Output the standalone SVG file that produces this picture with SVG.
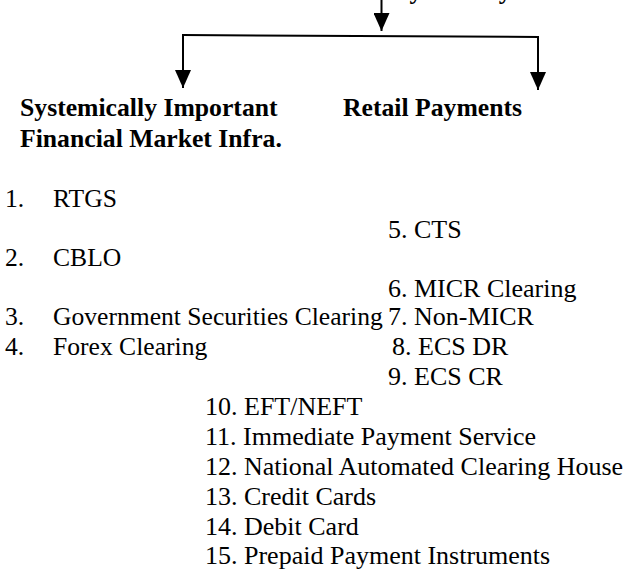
<svg xmlns="http://www.w3.org/2000/svg" width="626" height="570" viewBox="0 0 626 570">
<style>
text { font-family: "Liberation Serif", "Times New Roman", serif; font-size: 26px; fill: #000; }
.b { font-weight: bold; font-size: 25.7px; }
.l { font-size: 25.6px; }
.ln { stroke: #000; stroke-width: 2; fill: none; }
</style>
<defs>
<marker id="ah" markerUnits="userSpaceOnUse" markerWidth="18" markerHeight="16" viewBox="0 0 18 16" refX="18" refY="8" orient="auto">
<path d="M0,0 L18,8 L0,16 z" fill="#000"/>
</marker>
</defs>
<rect width="626" height="570" fill="#fff"/>
<g id="title"><text class="b" x="381" y="-1.5">Payment Systems</text></g>
<g id="connectors">
<path class="ln" d="M381.5,0 L381.5,31" marker-end="url(#ah)"/>
<path class="ln" d="M182,35 L539,37"/>
<path class="ln" d="M183,35 L183,88" marker-end="url(#ah)"/>
<path class="ln" d="M538,37 L538,90" marker-end="url(#ah)"/>
</g>
<g id="sifmi">
<text class="b" x="20" y="116">Systemically Important</text>
<text class="b" x="20" y="147">Financial Market Infra.</text>
</g>
<g id="retail">
<text class="b" x="343" y="116">Retail Payments</text>
</g>
<g id="sifmi-list">
<text class="l" x="5" y="207">1.</text><text class="l" x="53" y="207">RTGS</text>
<text class="l" x="5" y="266">2.</text><text class="l" x="53" y="266">CBLO</text>
<text class="l" x="5" y="325">3.</text><text class="l" x="53" y="325">Government Securities Clearing</text>
<text class="l" x="5" y="355">4.</text><text class="l" x="53" y="355">Forex Clearing</text>
</g>
<g id="retail-list">
<text x="388" y="238">5. CTS</text>
<text x="388" y="297">6. MICR Clearing</text>
<text x="388" y="325">7. Non-MICR</text>
<text x="392" y="355">8. ECS DR</text>
<text x="388" y="385">9. ECS CR</text>
<text x="205" y="415">10. EFT/NEFT</text>
<text x="205" y="445">11. Immediate Payment Service</text>
<text x="205" y="475">12. National Automated Clearing House</text>
<text x="205" y="505">13. Credit Cards</text>
<text x="205" y="535">14. Debit Card</text>
<text x="205" y="564">15. Prepaid Payment Instruments</text>
</g>
</svg>
